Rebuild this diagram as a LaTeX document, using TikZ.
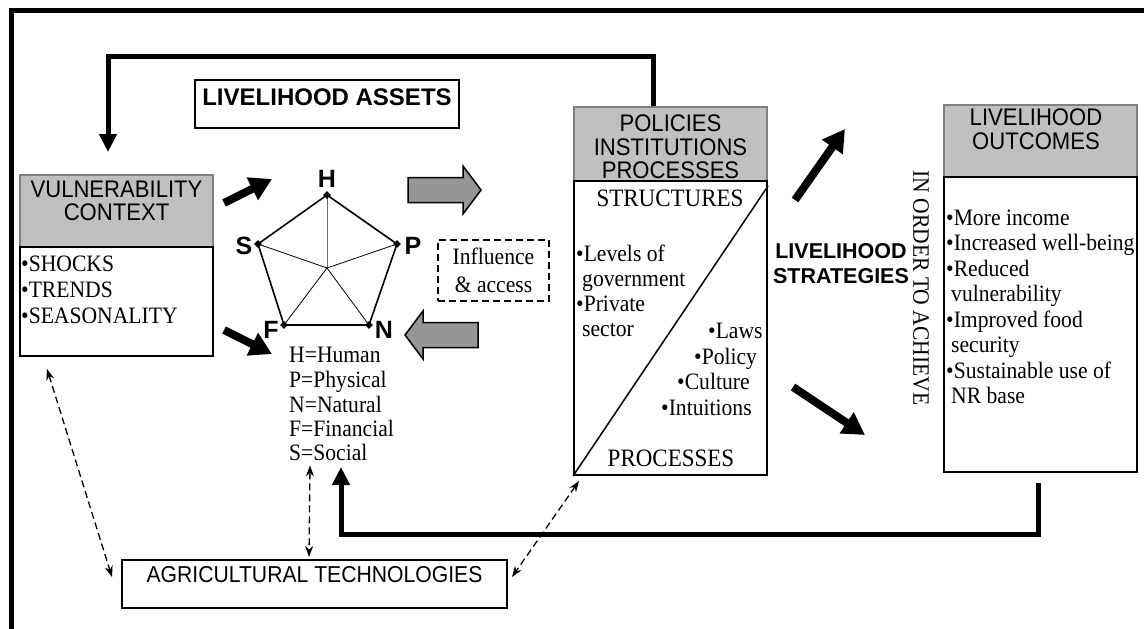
\documentclass[tikz,border=0pt]{standalone}
\usepackage{fontspec}
\setmainfont{Liberation Serif}
\setsansfont{Liberation Sans}
\newfontfamily\serx[FakeStretch=0.92]{Liberation Serif}
\newfontfamily\sanx[FakeStretch=0.92]{Liberation Sans}
\usetikzlibrary{arrows.meta,shapes.geometric,calc}
\definecolor{hdrgray}{RGB}{192,192,192}
\definecolor{hdrline}{RGB}{128,128,128}
\definecolor{arrgray}{RGB}{150,150,150}
\definecolor{spokegray}{RGB}{110,110,110}
\begin{document}
\begin{tikzpicture}[x=1pt,y=-1pt,
  wbox/.style={draw=black,line width=2pt,fill=white,inner sep=0pt},
  hdr/.style={draw=hdrline,line width=2pt,fill=hdrgray,inner sep=0pt},
  dbox/.style={draw=black,line width=2pt,dash pattern=on 7pt off 4pt,inner sep=0pt},
  ser/.style={font=\serx\fontsize{23.5}{25}\selectfont,inner sep=0pt},
  bigser/.style={font=\serx\fontsize{25}{26}\selectfont,inner sep=0pt},
  sans/.style={font=\sanx\fontsize{24}{24}\selectfont,inner sep=0pt},
  bsans/.style={font=\sffamily\bfseries\fontsize{24}{26}\selectfont,inner sep=0pt},
  lsans/.style={font=\sffamily\bfseries\fontsize{21.5}{24}\selectfont,inner sep=0pt},
  plabel/.style={font=\sffamily\bfseries\fontsize{25}{26}\selectfont,inner sep=0pt},
  vtx/.style={diamond,fill=black,inner sep=0pt,minimum size=8pt},
  fb/.style={line width=5pt,-{Triangle[width=17pt,length=18pt]}},
  bigarrow/.style={line width=8pt,-{Triangle[width=24pt,length=22pt]}},
  dasharrow/.style={line width=1.3pt,dash pattern=on 7pt off 4pt,{Stealth[length=11pt,width=8pt]}-{Stealth[length=11pt,width=8pt]}},
  blockarrow/.style={draw=black,line width=1.5pt,fill=arrgray,line join=miter}
]
\useasboundingbox (0,0) rectangle (1144,629);
\fill[white] (0,0) rectangle (1144,629);

% frame
\draw[line width=5pt] (11,629) -- (11,10) -- (1144,10);

% livelihood assets
\node[wbox,minimum width=264pt,minimum height=48pt] (assets) at (327,104) {};
\node[bsans,anchor=base] (assetsT) at (327,105) {LIVELIHOOD ASSETS};

% vulnerability context
\node[hdr,minimum width=193pt,minimum height=72pt] (vh) at (116.5,211) {};
\node[wbox,minimum width=193pt,minimum height=109pt] (vb) at (116.5,301.5) {};
\node[sans,anchor=base] (vh1) at (116.5,197) {VULNERABILITY};
\node[sans,anchor=base] (vh2) at (116.5,220) {CONTEXT};
\node[ser,anchor=base west] (vb1) at (21,271) {•SHOCKS};
\node[ser,anchor=base west] (vb2) at (21,297) {•TRENDS};
\node[ser,anchor=base west] (vb3) at (21,323) {•SEASONALITY};

% pentagon
\coordinate (pc) at (327,268);
\coordinate (vHc) at (327,195);
\coordinate (vPc) at (397,244);
\coordinate (vNc) at (369,325);
\coordinate (vFc) at (284,325);
\coordinate (vSc) at (258,244);
\draw[line width=0.9pt,spokegray] (pc) -- (vHc);
\draw[line width=0.8pt] (pc) -- (vPc) (pc) -- (vNc) (pc) -- (vFc) (pc) -- (vSc);
\draw[line width=1.6pt,line join=miter] (vHc) -- (vPc) -- (vNc) -- (vFc) -- (vSc) -- cycle;
\node[vtx] (vH) at (vHc) {};
\node[vtx] (vP) at (vPc) {};
\node[vtx] (vN) at (vNc) {};
\node[vtx] (vF) at (vFc) {};
\node[vtx] (vS) at (vSc) {};
\node[plabel] (lH) at (327,179) {H};
\node[plabel] (lP) at (413,246) {P};
\node[plabel] (lN) at (384,330) {N};
\node[plabel] (lF) at (271,330) {F};
\node[plabel] (lS) at (244,246) {S};

% legend
\node[ser,anchor=base west] (leg1) at (289,362) {H=Human};
\node[ser,anchor=base west] (leg2) at (289,387) {P=Physical};
\node[ser,anchor=base west] (leg3) at (289,412) {N=Natural};
\node[ser,anchor=base west] (leg4) at (289,436) {F=Financial};
\node[ser,anchor=base west] (leg5) at (289,460) {S=Social};

% black arrows from vulnerability
\coordinate (a1s) at (224,203); \coordinate (a1e) at (272,179);
\coordinate (a2s) at (224,330); \coordinate (a2e) at (272,354);
\draw[bigarrow] (a1s) -- (a1e);
\draw[bigarrow] (a2s) -- (a2e);

% block arrows
\draw[blockarrow] (408,177.5) -- (463,177.5) -- (463,166) -- (481,190) -- (463,214) -- (463,202.5) -- (408,202.5) -- cycle;
\draw[blockarrow] (478,322.5) -- (423,322.5) -- (423,311) -- (405,335) -- (423,359) -- (423,347.5) -- (478,347.5) -- cycle;

% influence
\node[dbox,minimum width=111pt,minimum height=61pt] (infl) at (493.5,270.5) {};
\node[ser,anchor=base] (infl1) at (493.5,264) {Influence};
\node[ser,anchor=base] (infl2) at (493.5,292) {\& access};

% policies
\node[hdr,minimum width=193pt,minimum height=74pt] (ph) at (670.5,144) {};
\node[wbox,minimum width=193pt,minimum height=294pt] (pb) at (670.5,328) {};
\draw[line width=1.5pt] (pb.south west) -- ($(pb.north east)+(0,6)$);
\node[sans,anchor=base] (ph1) at (670.5,131) {POLICIES};
\node[sans,anchor=base] (ph2) at (670.5,155) {INSTITUTIONS};
\node[sans,anchor=base] (ph3) at (670.5,178) {PROCESSES};
\node[bigser,anchor=base] (pst) at (670,206) {STRUCTURES};
\node[bigser,anchor=base] (ppr) at (671,466) {PROCESSES};
\node[ser,anchor=base west] (pl1) at (576,261) {•Levels of};
\node[ser,anchor=base west] (pl2) at (582,286) {government};
\node[ser,anchor=base west] (pl3) at (576,311) {•Private};
\node[ser,anchor=base west] (pl4) at (582,336) {sector};
\node[ser,anchor=base west] (pr1) at (708,338) {•Laws};
\node[ser,anchor=base west] (pr2) at (694,364) {•Policy};
\node[ser,anchor=base west] (pr3) at (677,389) {•Culture};
\node[ser,anchor=base west] (pr4) at (661,415) {•Intuitions};

% livelihood strategies
\node[lsans,anchor=base] (ls1) at (841,258) {LIVELIHOOD};
\node[lsans,anchor=base] (ls2) at (841,283) {STRATEGIES};
\coordinate (a3s) at (795,200); \coordinate (a3e) at (845,129);
\coordinate (a4s) at (793,387); \coordinate (a4e) at (865,435);
\draw[bigarrow] (a3s) -- (a3e);
\draw[bigarrow] (a4s) -- (a4e);
\node[ser,rotate=-90] (ioa) at (921,288) {IN ORDER TO ACHIEVE};

% outcomes
\node[hdr,minimum width=193pt,minimum height=72pt] (oh) at (1040.5,141) {};
\node[wbox,minimum width=193pt,minimum height=295pt] (ob) at (1040.5,324.5) {};
\node[sans,anchor=base] (oh1) at (1036,125) {LIVELIHOOD};
\node[sans,anchor=base] (oh2) at (1036,149) {OUTCOMES};
\node[ser,anchor=base west] (o1) at (946,225) {•More income};
\node[ser,anchor=base west] (o2) at (946,250.5) {•Increased well-being};
\node[ser,anchor=base west] (o3) at (946,276) {•Reduced};
\node[ser,anchor=base west] (o4) at (951,301.5) {vulnerability};
\node[ser,anchor=base west] (o5) at (946,327) {•Improved food};
\node[ser,anchor=base west] (o6) at (951,352.5) {security};
\node[ser,anchor=base west] (o7) at (946,378) {•Sustainable use of};
\node[ser,anchor=base west] (o8) at (951,403.5) {NR base};

% agricultural technologies
\node[wbox,minimum width=385pt,minimum height=48pt] (agri) at (314.5,584) {};
\node[sans,font=\sanx\fontsize{23}{24}\selectfont,anchor=base] (agriT) at (314.5,582.5) {AGRICULTURAL TECHNOLOGIES};

% feedback loops
\coordinate (fbTop) at (108,152);
\draw[fb] ([xshift=-17pt]ph.north) -- ++(0,-49.5) -| (fbTop);
\coordinate (fbBot) at (341,467);
\draw[fb] ($(ob.south)+(-2.5,10)$) -- ++(0,51) -| (fbBot);

% dashed double arrows
\draw[dasharrow] ($(vb.south west)+(28,12)$) -- ($(agri.west)+(-9,-7)$);
\draw[dasharrow] ($(leg5.south west)+(21,5)$) -- ($(agri.north west)+(188,-2)$);
\draw[dasharrow] ($(pb.south west)+(6,5)$) -- ($(agri.east)+(4,-7)$);
\end{tikzpicture}
\end{document}
